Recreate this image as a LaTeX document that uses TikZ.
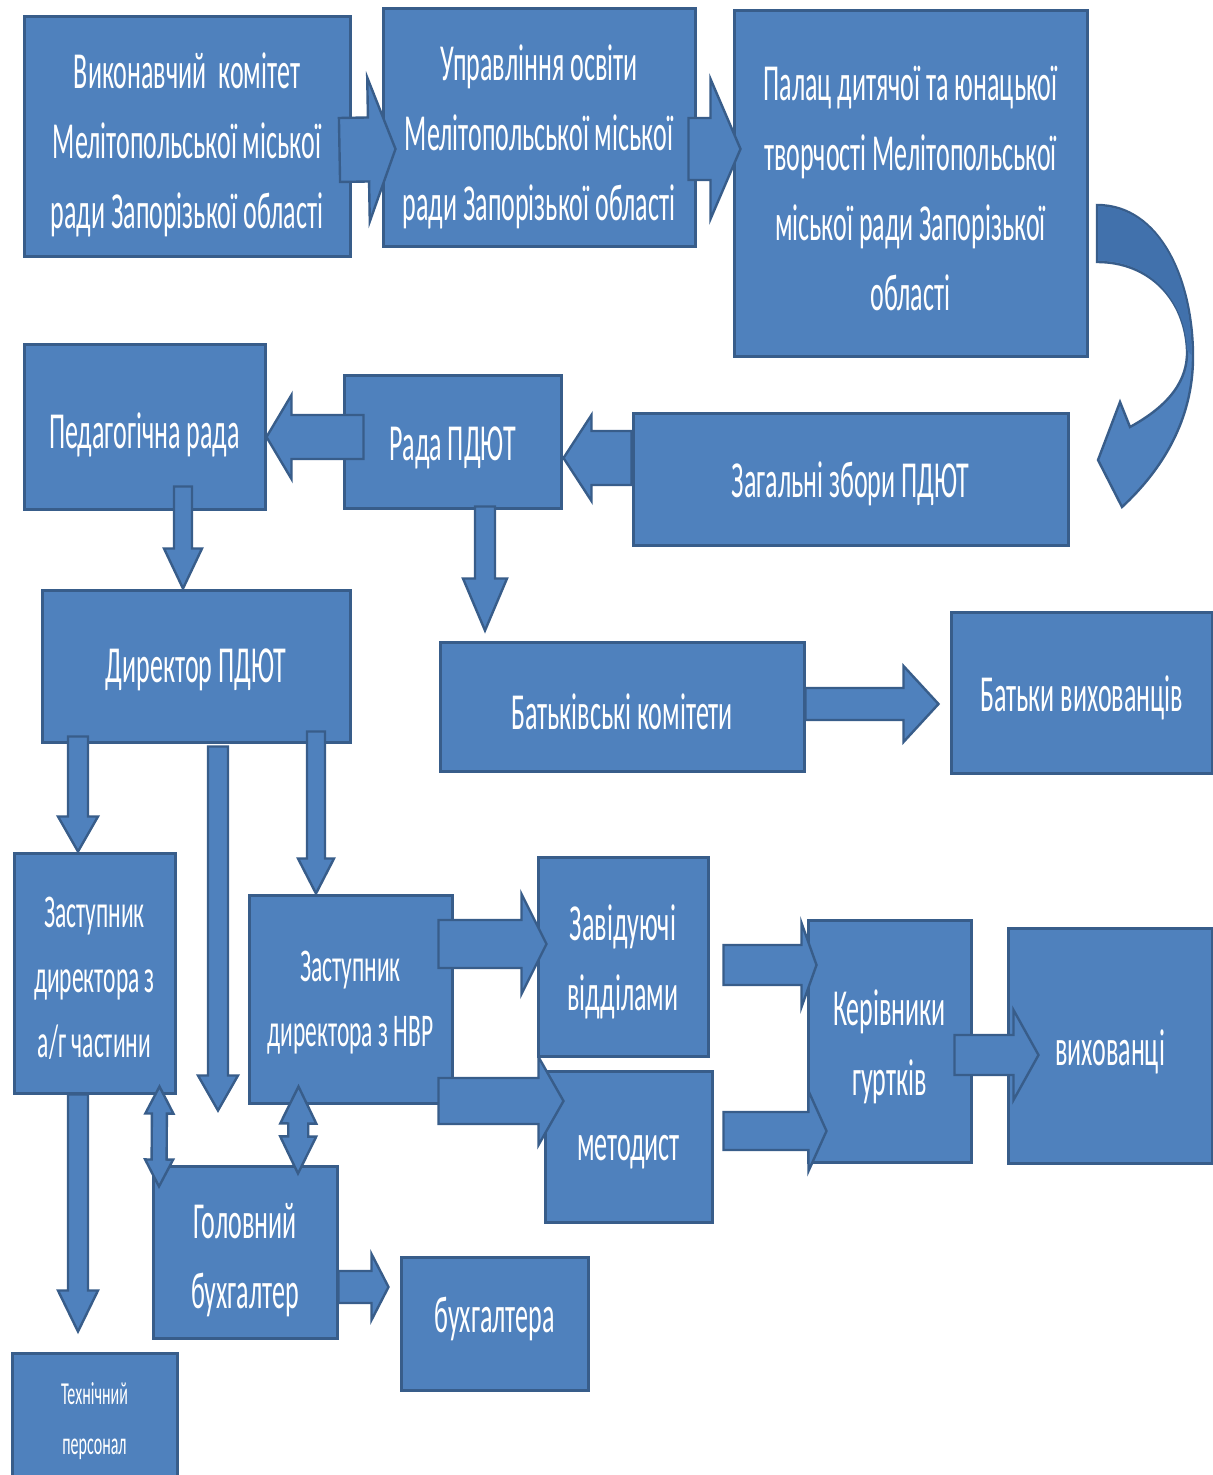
\documentclass[tikz,border=0pt]{standalone}
\usepackage{fontspec}
\newfontfamily\boxfont{Carlito}[FakeStretch=0.5]
\usetikzlibrary{calc}
\definecolor{boxblue}{HTML}{4F81BD}
\definecolor{boxedge}{HTML}{385D8A}
\definecolor{arcdark}{HTML}{4171AC}
\tikzset{
  box/.style={draw=boxedge, fill=boxblue, line width=1.5pt, inner sep=0pt},
  sz/.style 2 args={minimum width={#1*0.5pt}, minimum height={#2*0.5pt}},
  txt/.style={text=white, align=center, inner sep=0pt, font=\boxfont\fontsize{26}{35}\selectfont},
  midtxt/.style={txt, font=\boxfont\fontsize{23.5}{32.5}\selectfont},
  smalltxt/.style={txt, font=\boxfont\fontsize{16}{25}\selectfont},
  blockarr/.style={fill=boxblue, draw=boxedge, line width=1.2pt, line join=miter},
}
% box: name, text style, centre, width, height, text shift, text
\newcommand\bbox[7]{%
  \node[box, sz={#4}{#5}] (#1) at (#3) {};
  \node[#2] (#1-t) at ($(#1.center)+(0,#6)$) {#7};}
% single block arrow: start, end, shaft half width, head half width, head length (px)
\newcommand\blockarrow[5]{%
  \filldraw[blockarr] let \p1=#1, \p2=#2,
    \n1={veclen(\x2-\x1,\y2-\y1)},
    \n2={(\x2-\x1)/\n1}, \n3={(\y2-\y1)/\n1},
    \n4={#3*0.5}, \n5={#4*0.5}, \n6={#5*0.5},
    \n{bx}={\x2-(\n2)*\n6}, \n{by}={\y2-(\n3)*\n6} in
    ({\x1-(\n3)*\n4*1pt},{\y1+(\n2)*\n4*1pt})
    -- ({(\n{bx}-(\n3)*\n4)*1pt},{(\n{by}+(\n2)*\n4)*1pt})
    -- ({(\n{bx}-(\n3)*\n5)*1pt},{(\n{by}+(\n2)*\n5)*1pt})
    -- (\p2)
    -- ({(\n{bx}+(\n3)*\n5)*1pt},{(\n{by}-(\n2)*\n5)*1pt})
    -- ({(\n{bx}+(\n3)*\n4)*1pt},{(\n{by}-(\n2)*\n4)*1pt})
    -- ({\x1+(\n3)*\n4*1pt},{\y1-(\n2)*\n4*1pt})
    -- cycle;}
% double block arrow
\newcommand\dblockarrow[5]{%
  \filldraw[blockarr] let \p1=#1, \p2=#2,
    \n1={veclen(\x2-\x1,\y2-\y1)},
    \n2={(\x2-\x1)/\n1}, \n3={(\y2-\y1)/\n1},
    \n4={#3*0.5}, \n5={#4*0.5}, \n6={#5*0.5},
    \n{bx}={\x2-(\n2)*\n6}, \n{by}={\y2-(\n3)*\n6},
    \n{cx}={\x1+(\n2)*\n6}, \n{cy}={\y1+(\n3)*\n6} in
    (\p1)
    -- ({(\n{cx}-(\n3)*\n5)*1pt},{(\n{cy}+(\n2)*\n5)*1pt})
    -- ({(\n{cx}-(\n3)*\n4)*1pt},{(\n{cy}+(\n2)*\n4)*1pt})
    -- ({(\n{bx}-(\n3)*\n4)*1pt},{(\n{by}+(\n2)*\n4)*1pt})
    -- ({(\n{bx}-(\n3)*\n5)*1pt},{(\n{by}+(\n2)*\n5)*1pt})
    -- (\p2)
    -- ({(\n{bx}+(\n3)*\n5)*1pt},{(\n{by}-(\n2)*\n5)*1pt})
    -- ({(\n{bx}+(\n3)*\n4)*1pt},{(\n{by}-(\n2)*\n4)*1pt})
    -- ({(\n{cx}+(\n3)*\n4)*1pt},{(\n{cy}-(\n2)*\n4)*1pt})
    -- ({(\n{cx}+(\n3)*\n5)*1pt},{(\n{cy}-(\n2)*\n5)*1pt})
    -- cycle;}
\begin{document}
\begin{tikzpicture}[x=0.5pt, y=-0.5pt]
\useasboundingbox (0,0) rectangle (1213,1475);
\fill[white] (0,0) rectangle (1213,1475);

% boxes
\bbox{vyk}{txt}{187,137}{326}{240}{8}{Виконавчий\ \ комітет\\Мелітопольської міської\\ради Запорізької області}
\bbox{upr}{txt}{539,128}{312}{238}{9}{Управління освіти\\Мелітопольської міської\\ради Запорізької області}
\bbox{pal}{txt}{910.5,184}{353}{346}{4}{Палац дитячої та юнацької\\творчості Мелітопольської\\міської ради Запорізької\\області}
\bbox{ped}{txt}{144.5,427.5}{241}{165}{7}{Педагогічна рада}
\bbox{rada}{txt}{452.5,442.5}{217}{133}{5}{Рада ПДЮТ}
\bbox{zag}{txt}{850.5,479.5}{435}{131}{4}{Загальні збори ПДЮТ}
\bbox{dyr}{txt}{196,666}{308}{152}{4}{Директор ПДЮТ}
\bbox{batk}{txt}{622,706.5}{364}{129}{5}{Батьківські комітети}
\bbox{batv}{txt}{1081.5,692.5}{261}{161}{5}{Батьки вихованців}
\bbox{zagag}{midtxt}{94.5,973}{161}{240}{5}{Заступник\\директора з\\а/г частини}
\bbox{nvr}{midtxt}{350.5,999}{203}{208}{4}{Заступник\\директора з НВР}
\bbox{zav}{txt}{623,956.5}{170}{199}{5}{Завідуючі\\відділами}
\bbox{met}{txt}{628.5,1146.5}{167}{151}{6}{методист}
\bbox{ker}{txt}{889.5,1041}{163}{242}{6}{Керівники\\гуртків}
\bbox{vyh}{txt}{1110,1045.5}{204}{235}{6}{вихованці}
\bbox{gol}{txt}{245,1252}{184}{172}{8}{Головний\\бухгалтер}
\bbox{buh}{txt}{494.5,1323.5}{187}{133}{-5}{бухгалтера}
\bbox{teh}{smalltxt}{94.5,1415.5}{165}{125}{6}{Технічний\\персонал}

% block arrows
\blockarrow{($(vyk.east)+(-12,13)$)}{($(upr.west)+(14,21)$)}{32}{72}{27}
\blockarrow{($(upr.east)+(-8,21)$)}{($(pal.west)+(8,-35)$)}{31}{70}{30}
\blockarrow{($(rada.west)+(21,-5.5)$)}{($(ped.east)+(0,9.5)$)}{22}{42}{25}
\blockarrow{($(zag.west)+(0,-21.5)$)}{($(rada.east)+(1,15.5)$)}{27}{43}{28}
\blockarrow{($(ped.south)+(38.5,-25)$)}{($(dyr.north)+(-13,0)$)}{9}{19}{40}
\blockarrow{($(rada.south)+(32.5,-4)$)}{($(batk.north)+(-137,-10)$)}{10}{22}{52}
\blockarrow{($(batk.east)+(0,-2.5)$)}{($(batv.west)+(-11,11.5)$)}{16}{38}{35}
\blockarrow{($(dyr.south)+(-118,-7)$)}{($(zagag.north)+(-16.5,0)$)}{10}{20}{35}
\blockarrow{($(dyr.south)+(22,3)$)}{($(gol.north)+(-27,-54)$)}{10}{20}{35}
\blockarrow{($(dyr.south)+(120,-12)$)}{($(nvr.north)+(-34.5,0)$)}{9}{18}{35}
\blockarrow{($(nvr.east)+(-15,-55)$)}{($(zav.west)+(10,-12.5)$)}{24}{50}{25}
\blockarrow{($(nvr.east)+(-15,102)$)}{($(met.west)+(20,-45.5)$)}{23}{44}{25}
\blockarrow{($(zav.east)+(14,8.5)$)}{($(ker.west)+(10,-76)$)}{20}{42}{15}
\blockarrow{($(met.east)+(10,-15.5)$)}{($(ker.west)+(20,90)$)}{19}{40}{18}
\blockarrow{($(ker.east)+(-18,14)$)}{($(vyh.west)+(32,9.5)$)}{20}{45}{25}
\dblockarrow{($(zagag.south)+(65,-8)$)}{($(gol.north)+(-86,22)$)}{7.5}{14}{27}
\dblockarrow{($(nvr.south)+(-52,-18)$)}{($(gol.north)+(53,9)$)}{10}{18}{37}
\blockarrow{($(zagag.south)+(-16.5,0)$)}{($(teh.north)+(-16.5,-20)$)}{10}{20}{41}
\blockarrow{($(gol.east)+(0,35)$)}{($(buh.west)+(-11,-36.5)$)}{16}{33}{17}

% curved arrow from pal to zag
\filldraw[blockarr] (1097,205) .. controls (1160,205) and (1193,280) .. (1193,357)
  .. controls (1193,420) and (1162,470) .. (1122,507) -- (1098,460) -- (1120,402)
  -- (1130,427) .. controls (1170,405) and (1188,380) .. (1187,350)
  .. controls (1185,300) and (1150,262) .. (1097,262) -- cycle;
\fill[arcdark] (1098,206.5) .. controls (1160,206.5) and (1191.5,280) .. (1191.5,355)
  -- (1187,350) .. controls (1185,300) and (1150,260.5) .. (1098,260.5) -- cycle;
\end{tikzpicture}
\end{document}
